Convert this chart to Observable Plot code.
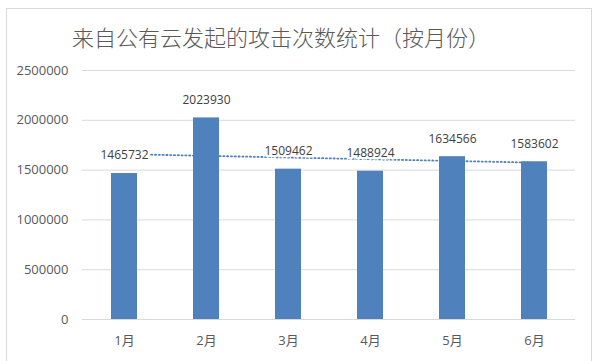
<!DOCTYPE html>
<html>
<head>
<meta charset="utf-8">
<script src="https://cdn.jsdelivr.net/npm/d3@7"></script>
<script src="https://cdn.jsdelivr.net/npm/@observablehq/plot@0.6"></script>
<style>
  html, body { margin: 0; padding: 0; background: #fff; }
  #wrap { position: relative; width: 600px; height: 361px; overflow: hidden; }
  #frame { position: absolute; left: 6px; top: 8px; width: 586px; height: 360px; border: 1px solid #d9d9d9; box-sizing: border-box; }
  #title { position: absolute; left: 72px; top: 21px; height: 30px; line-height: 30px; font-family: "Noto Sans CJK SC", sans-serif; font-size: 22px; color: #595959; white-space: nowrap; font-weight: 300; }
  #chart { position: absolute; left: 0; top: 50px; }
</style>
</head>
<body>
<div id="wrap">
  <div id="frame"></div>
  <div id="title">来自公有云发起的攻击次数统计（按月份）</div>
  <div id="chart"></div>
</div>
<script>
const titleText = "来自公有云发起的攻击次数统计（按月份）";
const months = ["1月", "2月", "3月", "4月", "5月", "6月"];
const attacks = [1465732, 2023930, 1509462, 1488924, 1634566, 1583602];
const yTicks = [0, 500000, 1000000, 1500000, 2000000, 2500000];

const data = months.map((m, i) => ({month: m, value: attacks[i]}));

// linear trendline (least squares over month index), as in the spreadsheet chart
const xs = attacks.map((_, i) => i + 1);
const mx = d3.mean(xs), my = d3.mean(attacks);
const slope = d3.sum(xs, (x, i) => (x - mx) * (attacks[i] - my)) / d3.sum(xs, x => (x - mx) ** 2);
const intercept = my - slope * mx;
const trend = months.map((m, i) => ({month: m, t: intercept + slope * (i + 1)}));

const font = "'Open Sans', 'Noto Sans CJK SC', sans-serif";

const chart = Plot.plot({
  width: 600,
  height: 300,
  marginTop: 20,
  marginBottom: 31,
  marginLeft: 82,
  marginRight: 25,
  style: {fontFamily: font, background: "transparent", overflow: "visible"},
  x: {domain: months, paddingInner: 0.684, paddingOuter: 0.342, label: null},
  y: {domain: [0, 2500000], label: null},
  marks: [
    Plot.ruleY(yTicks, {stroke: "#d9d9d9", strokeWidth: 1}),
    Plot.line(trend, {x: "month", y: "t", stroke: "#4f81bd", strokeWidth: 1.8, strokeDasharray: "1.2,2.6"}),
    Plot.barY(data, {x: "month", y: "value", fill: "#4f81bd"}),
    Plot.text(data, {x: "month", y: "value", text: d => String(d.value), dy: -18, fill: "#404040", stroke: "white", strokeWidth: 5, fontSize: 12, fontFamily: font}),
    Plot.axisY({ticks: yTicks, tickFormat: d => String(d), tickSize: 0, tickPadding: 14, fontSize: 13, color: "#595959", label: null}),
    Plot.axisX({tickSize: 0, tickPadding: 16, fontSize: 13, color: "#595959", label: null})
  ]
});
document.getElementById("chart").appendChild(chart);
</script>
</body>
</html>
